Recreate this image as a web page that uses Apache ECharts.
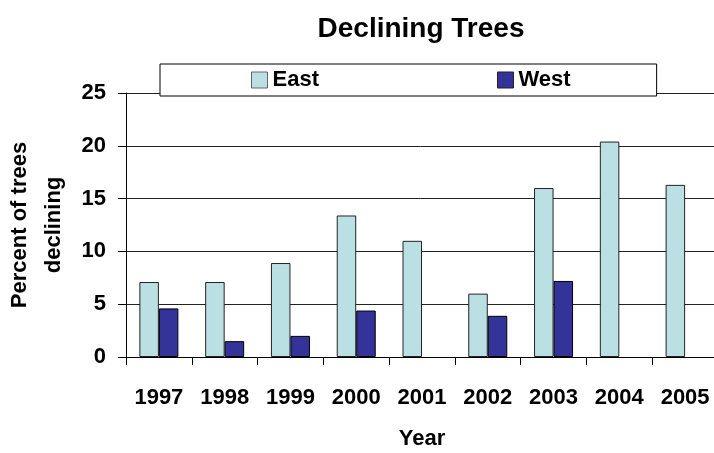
<!DOCTYPE html>
<html>
<head>
<meta charset="utf-8">
<title>Declining Trees</title>
<script src="https://cdn.jsdelivr.net/npm/echarts@6/dist/echarts.min.js"></script>
<style>
  html, body { margin: 0; padding: 0; background: #fff; }
  #chart { width: 714px; height: 453px; }
</style>
</head>
<body>
<div id="chart"></div>
<script>
// data
const years = ['1997', '1998', '1999', '2000', '2001', '2002', '2003', '2004', '2005']
const eastValues = [7.1, 7.1, 8.9, 13.4, 11.0, 6.0, 16.0, 20.4, 16.3]
const westValues = [4.6, 1.5, 2.0, 4.4, null, 3.9, 7.2, null, null]
const yTicks = [0, 5, 10, 15, 20, 25]

const font = 'Arial, "Liberation Sans", sans-serif'
const myChart = echarts.init(document.getElementById('chart'))

const option = {
  animation: false,
  backgroundColor: '#fff',
  title: {
    text: 'Declining Trees',
    left: 416,
    textAlign: 'center',
    top: 10,
    textStyle: { fontFamily: font, fontWeight: 'bold', fontSize: 28, color: '#000' }
  },
  legend: {
    left: 160,
    top: 64,
    padding: [5, 86, 5, 91],
    itemGap: 178,
    itemWidth: 16,
    itemHeight: 16,
    icon: 'rect',
    borderColor: '#000',
    borderWidth: 1,
    backgroundColor: '#fff',
    z: 10,
    textStyle: { fontFamily: font, fontWeight: 'bold', fontSize: 22, color: '#000' },
    data: [
      { name: 'East', itemStyle: { borderColor: '#666', borderWidth: 1 } },
      { name: 'West', itemStyle: { borderColor: '#222', borderWidth: 1 } }
    ]
  },
  grid: {
    left: 126,
    top: 93,
    width: 592,
    height: 264,
    containLabel: false,
    outerBoundsMode: 'none'
  },
  xAxis: {
    type: 'category',
    data: years,
    name: 'Year',
    nameLocation: 'middle',
    nameGap: 71,
    nameTextStyle: { fontFamily: font, fontWeight: 'bold', fontSize: 22, color: '#000' },
    axisLine: { lineStyle: { color: '#000', width: 1 } },
    axisTick: { show: true, length: 8, lineStyle: { color: '#000' } },
    axisLabel: { margin: 30, fontFamily: font, fontWeight: 'bold', fontSize: 22, color: '#000' }
  },
  yAxis: {
    type: 'value',
    min: yTicks[0],
    max: yTicks[yTicks.length - 1],
    interval: 5,
    name: 'Percent of trees\ndeclining',
    nameLocation: 'middle',
    nameGap: 53,
    nameTextStyle: { fontFamily: font, fontWeight: 'bold', fontSize: 22, color: '#000', lineHeight: 34 },
    axisLine: { show: true, lineStyle: { color: '#000', width: 1 } },
    axisTick: { show: true, length: 8, lineStyle: { color: '#000' } },
    axisLabel: { margin: 20, fontFamily: font, fontWeight: 'bold', fontSize: 22, color: '#000' },
    splitLine: { show: true, lineStyle: { color: '#222', width: 1 } }
  },
  series: [
    {
      name: 'East',
      type: 'bar',
      data: eastValues,
      barWidth: 19.5,
      barGap: '0%',
      itemStyle: { color: '#BBE0E3', borderColor: '#222', borderWidth: 1 }
    },
    {
      name: 'West',
      type: 'bar',
      data: westValues,
      barWidth: 19.5,
      itemStyle: { color: '#333399', borderColor: '#000', borderWidth: 1 }
    }
  ]
}
myChart.setOption(option)
</script>
</body>
</html>
